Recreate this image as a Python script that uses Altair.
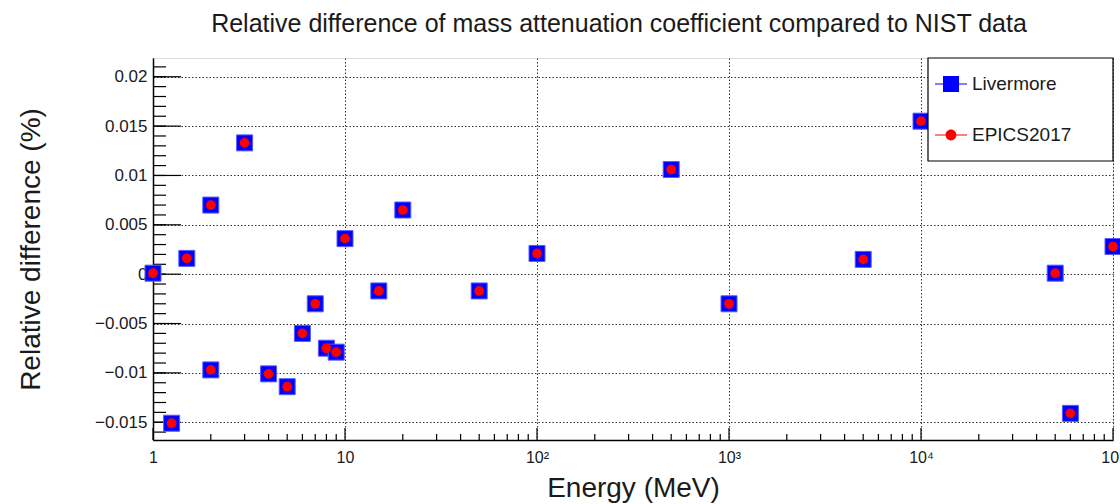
import altair as alt
import pandas as pd

# ---- data ----
energy = [1, 1.25, 1.5, 2, 2, 3, 4, 5, 6, 7, 8, 9, 10, 15, 20, 50, 100, 500,
          1000, 5000, 10000, 50000, 60000, 100000]
livermore = [0.0001, -0.0151, 0.0016, 0.0070, -0.0097, 0.0133, -0.0101, -0.0114,
             -0.0060, -0.0030, -0.0075, -0.0079, 0.0036, -0.0017, 0.0065, -0.0017,
             0.0021, 0.0106, -0.0030, 0.0015, 0.0155, 0.0001, -0.0141, 0.0028]
epics2017 = [0.0001, -0.0151, 0.0016, 0.0070, -0.0097, 0.0133, -0.0101, -0.0114,
             -0.0060, -0.0030, -0.0075, -0.0079, 0.0036, -0.0017, 0.0065, -0.0017,
             0.0021, 0.0106, -0.0030, 0.0015, 0.0155, 0.0001, -0.0141, 0.0028]
series_names = ["Livermore", "EPICS2017"]

# axis tick values
y_major = [-0.015, -0.01, -0.005, 0, 0.005, 0.01, 0.015, 0.02]
y_minor = [round(-0.016 + 0.001 * i, 3) for i in range(38)]
x_major = [1, 10, 100, 1000, 10000, 100000]
x_minor = [k * 10 ** d for d in range(5) for k in range(2, 10)]

W, H = 960, 382
FONT = "Liberation Sans"
TXT = "#1a1a1a"

xs = alt.Scale(type="log", domain=[1, 100000], nice=False)
ys = alt.Scale(domain=[-0.0168, 0.0219], nice=False, zero=False)

x_axis = alt.Axis(
    values=x_major, ticks=False, domain=True, domainColor="black", domainWidth=1.5,
    grid=True, gridDash=[1.5, 2], gridColor="#333333", gridWidth=1,
    labelExpr="datum.value < 5 ? '1' : datum.value < 50 ? '10' : '10' + ['', '', '²', '³', '⁴', '⁵'][round(log(datum.value) / LN10)]",
    labelFont=FONT, labelFontSize=16, labelColor=TXT, labelPadding=9,
    labelFlush=False, labelOverlap=False,
    title="Energy (MeV)", titleFont=FONT, titleFontSize=28, titleFontWeight="normal",
    titleColor=TXT, titleY=56, titleBaseline="alphabetic",
)
y_axis = alt.Axis(
    values=y_major, format="~g", ticks=False, domain=True, domainColor="black",
    domainWidth=1.5, grid=True, gridDash=[1.5, 2], gridColor="#333333", gridWidth=1,
    labelFont=FONT, labelFontSize=17, labelColor=TXT, labelPadding=6,
    labelFlush=False, labelOverlap=False,
    title="Relative difference (%)", titleFont=FONT, titleFontSize=28,
    titleFontWeight="normal", titleColor=TXT, titleX=-114, titleBaseline="alphabetic",
)

pts = pd.DataFrame({"energy": energy, "livermore": livermore, "epics": epics2017})

squares = alt.Chart(pts).mark_point(
    shape="square", filled=True, size=256, color="#0000ff", stroke="#5a5aff",
    strokeWidth=1, opacity=1,
).encode(
    x=alt.X("energy:Q", scale=xs, axis=x_axis),
    y=alt.Y("livermore:Q", scale=ys, axis=y_axis),
)

circles = alt.Chart(pts).mark_point(
    shape="circle", filled=True, size=95, color="#ff0000", opacity=1,
).encode(
    x=alt.X("energy:Q", scale=xs, axis=x_axis),
    y=alt.Y("epics:Q", scale=ys, axis=y_axis),
)

# inward ticks (ROOT style)
xt_major = alt.Chart(pd.DataFrame({"energy": x_major})).mark_rule(color="black", strokeWidth=1.2).encode(
    x=alt.X("energy:Q", scale=xs, axis=x_axis), y=alt.value(H), y2=alt.value(H - 12))
xt_minor = alt.Chart(pd.DataFrame({"energy": x_minor})).mark_rule(color="black", strokeWidth=1.2).encode(
    x=alt.X("energy:Q", scale=xs, axis=x_axis), y=alt.value(H), y2=alt.value(H - 6))
yt_major = alt.Chart(pd.DataFrame({"livermore": y_major})).mark_rule(color="black", strokeWidth=1.2).encode(
    y=alt.Y("livermore:Q", scale=ys, axis=y_axis), x=alt.value(0), x2=alt.value(28))
yt_minor = alt.Chart(pd.DataFrame({"livermore": y_minor})).mark_rule(color="black", strokeWidth=1.2).encode(
    y=alt.Y("livermore:Q", scale=ys, axis=y_axis), x=alt.value(0), x2=alt.value(13))

# legend frame
frame = alt.Chart(pd.DataFrame({"k": [0]})).mark_rect(
    fill="white", stroke="black", strokeWidth=1.2
).encode(x=alt.value(775), x2=alt.value(960), y=alt.value(0), y2=alt.value(103))

# legend (built by Vega-Lite from the scale domain)
sq_path = "M-1,-0.035H1V0.035H-1Z M-0.5,-0.5H0.5V0.5H-0.5Z"
ci_path = ("M-1,-0.035H1V0.035H-1Z M-0.34,0A0.34,0.34 0 1,1 0.34,0"
           "A0.34,0.34 0 1,1 -0.34,0Z")
leg = alt.Legend(
    title=None, orient="none", legendX=772, legendY=0, padding=10,
    cornerRadius=0,
    symbolSize=1024, symbolStrokeWidth=0, labelOffset=5, rowPadding=25,
    labelFont=FONT, labelFontSize=19, labelColor=TXT,
)
legend_layer = alt.Chart(pd.DataFrame({"series": series_names})).transform_filter(
    "false"
).mark_point(filled=True, opacity=1, size=1024).encode(
    color=alt.Color("series:N", scale=alt.Scale(domain=series_names, range=["#0000ff", "#ff0000"]), legend=leg),
    shape=alt.Shape("series:N", scale=alt.Scale(domain=series_names, range=[sq_path, ci_path]), legend=leg),
)

chart = alt.layer(
    xt_minor, xt_major, yt_minor, yt_major, squares, circles, frame, legend_layer
).properties(
    width=W, height=H,
    title=alt.TitleParams(
        "Relative difference of mass attenuation coefficient compared to NIST data",
        font=FONT, fontSize=25, fontWeight="normal", color=TXT, anchor="middle",
        offset=20, dx=-14,
    ),
    autosize=alt.AutoSizeParams(type="none"),
    padding={"left": 153, "top": 58, "right": 7, "bottom": 64},
).configure_view(
    stroke="black", strokeWidth=1.2
).configure(background="white")

chart.save("out.html", embed_options={"renderer": "svg", "actions": False})
